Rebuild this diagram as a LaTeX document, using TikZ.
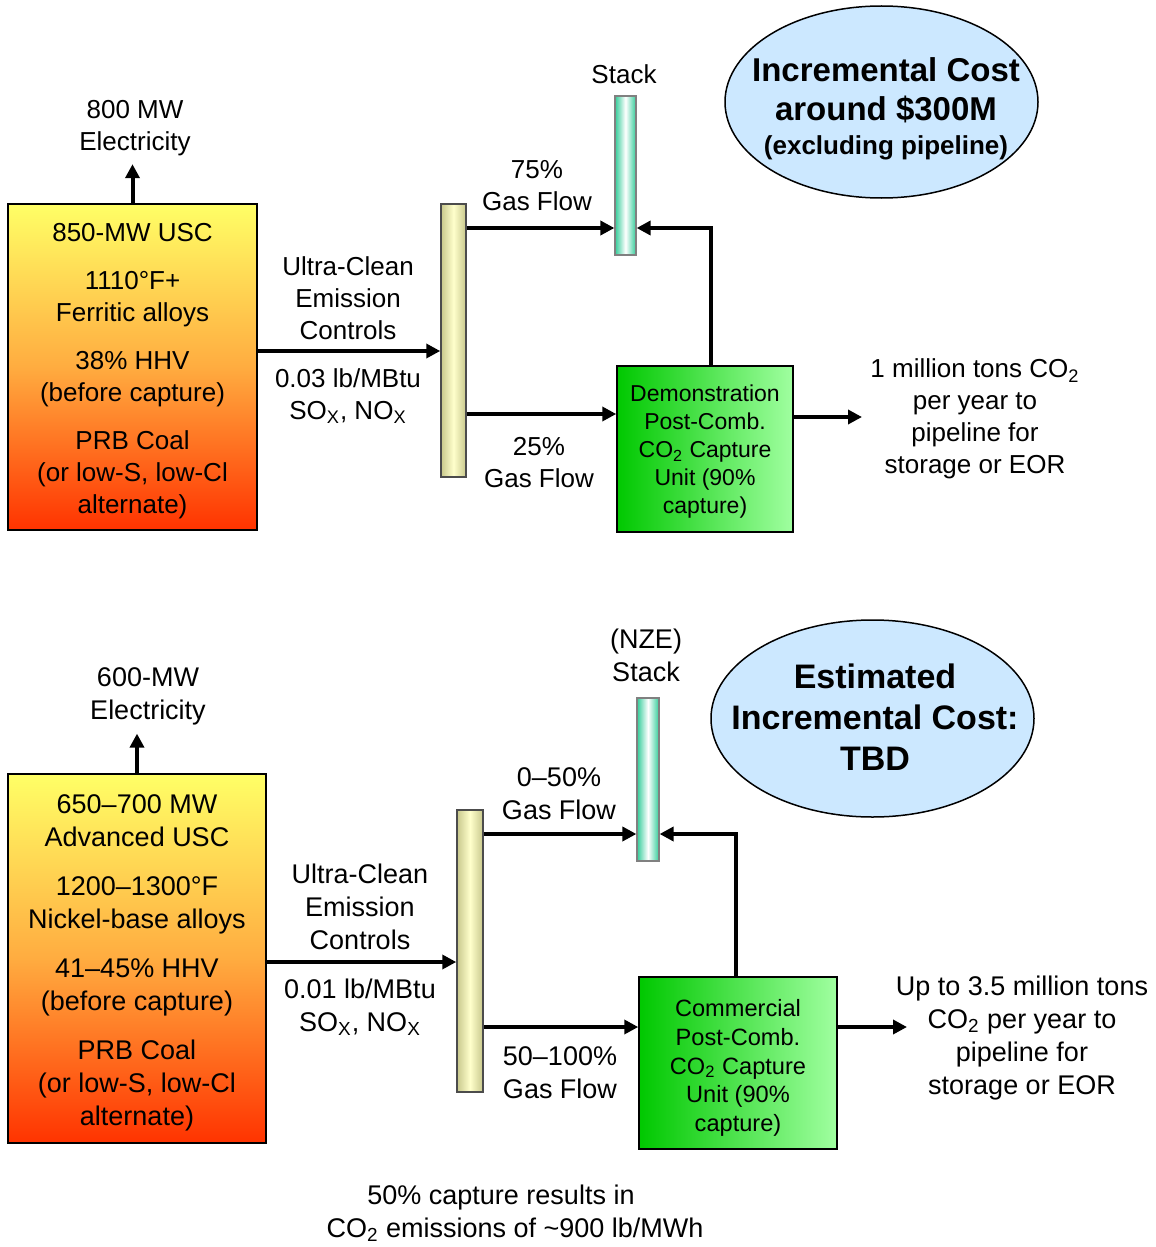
\documentclass[tikz,border=0pt]{standalone}
\usepackage{fontspec}
\setmainfont{Liberation Sans}
\usetikzlibrary{arrows.meta,shapes.geometric}
\definecolor{boxtop}{RGB}{255,255,102}
\definecolor{boxmid}{RGB}{255,172,64}
\definecolor{boxbot}{RGB}{255,51,0}
\definecolor{coledge}{RGB}{200,200,140}
\definecolor{colmid}{RGB}{255,255,204}
\definecolor{stackedge}{RGB}{51,204,153}
\definecolor{capleft}{RGB}{0,200,0}
\definecolor{capright}{RGB}{160,255,160}
\definecolor{ellfill}{RGB}{204,232,255}
\begin{document}
\begin{tikzpicture}[x=0.5pt,y=-0.5pt,
  plant/.style={draw=black, line width=0.75pt, top color=boxtop, bottom color=boxbot, middle color=boxmid, align=center, inner sep=0pt},
  colbox/.style={draw=black!70, line width=0.75pt, left color=coledge, right color=coledge, middle color=colmid, inner sep=0pt},
  stk/.style={draw=black!50, line width=0.6pt, left color=stackedge, right color=stackedge, middle color=white, inner sep=0pt},
  capbox/.style={draw=black, line width=0.75pt, left color=capleft, right color=capright, inner sep=0pt},
  ell/.style={ellipse, draw=black, line width=0.75pt, fill=ellfill, inner sep=0pt},
  lbl/.style={align=center, inner sep=0pt},
  ftop/.style={font=\fontsize{13}{16}\selectfont},
  fbot/.style={font=\fontsize{13.5}{16.5}\selectfont},
  arr/.style={line width=2pt, -{Triangle[length=7pt,width=7pt]}}]
\useasboundingbox (0,0) rectangle (1156,1247);

% ---------------- top section ----------------
\node[plant, minimum width=124.5pt, minimum height=163pt] (box1) at (132.5,367) {};
\node[lbl, ftop] (box1txt) at (132.5,371)
 {850-MW USC\\[8pt]1110°F+\\Ferritic alloys\\[8pt]38\% HHV\\(before capture)\\[8pt]PRB Coal\\(or low-S, low-Cl\\alternate)};
\node[lbl, ftop] (elec1) at (135,128) {800 MW\\Electricity};
\node[colbox, minimum width=12.5pt, minimum height=136.5pt] (col1) at (453.5,340.5) {};
\node[stk, minimum width=10.5pt, minimum height=79.5pt] (stack1) at (625.5,175.5) {};
\node[lbl, ftop] (stacklbl1) at (624,74) {Stack};
\node[capbox, minimum width=88pt, minimum height=83pt] (cap1) at (705,449) {};
\node[lbl, font=\fontsize{11.5}{14}\selectfont] (cap1txt) at (705,452)
 {Demonstration\\Post-Comb.\\CO\textsubscript{2} Capture\\Unit (90\%\\capture)};
\node[ell, minimum width=156.5pt, minimum height=96pt] (ell1) at (881.5,102) {};
\node[lbl, font=\bfseries\fontsize{16.5}{19.5}\selectfont] (ell1txt) at (886,109)
 {Incremental Cost\\around \$300M\\[-2.5pt]{\fontsize{13}{16}\selectfont (excluding pipeline)}};
\node[lbl, ftop] (uce1) at (348,298) {Ultra-Clean\\Emission\\Controls};
\node[lbl, ftop] (lb1) at (348,396) {0.03 lb/MBtu\\SO\textsubscript{X}, NO\textsubscript{X}};
\node[lbl, ftop] (g75) at (537,186) {75\%\\Gas Flow};
\node[lbl, ftop] (g25) at (539,463) {25\%\\Gas Flow};
\node[lbl, ftop] (out1) at (975,419) {1 million tons CO\textsubscript{2}\\per year to\\pipeline for\\storage or EOR};

\coordinate (m1) at (0,351);
\coordinate (t1) at (0,228);
\coordinate (b1) at (0,414);
\coordinate (fx1) at (711,0);
\coordinate (end1) at (862,417);
\draw[arr, shorten >=4pt] (box1.north) -- (box1.north |- elec1.south);
\draw[arr] (box1.east |- m1) -- (col1.west |- m1);
\draw[arr] (col1.east |- t1) -- (stack1.west |- t1);
\draw[arr] (col1.east |- b1) -- (cap1.west |- b1);
\draw[arr] (cap1.north -| fx1) |- (stack1.east |- t1);
\draw[arr] (cap1.east |- end1) -- (end1);

% ---------------- bottom section ----------------
\node[plant, minimum width=129pt, minimum height=184.5pt] (box2) at (137,958.5) {};
\node[lbl, fbot] (box2txt) at (137,963)
 {650–700 MW\\Advanced USC\\[8pt]1200–1300°F\\Nickel-base alloys\\[8pt]41–45\% HHV\\(before capture)\\[8pt]PRB Coal\\(or low-S, low-Cl\\alternate)};
\node[lbl, fbot] (elec2) at (148,696.5) {600-MW\\Electricity};
\node[colbox, minimum width=13pt, minimum height=141pt] (col2) at (470,951) {};
\node[stk, minimum width=11pt, minimum height=81.5pt] (stack2) at (648,779.5) {};
\node[lbl, fbot] (stacklbl2) at (646,655.5) {(NZE)\\Stack};
\node[capbox, minimum width=99pt, minimum height=86pt] (cap2) at (738,1063) {};
\node[lbl, font=\fontsize{11.8}{14.4}\selectfont] (cap2txt) at (738,1068)
 {Commercial\\Post-Comb.\\CO\textsubscript{2} Capture\\Unit (90\%\\capture)};
\node[ell, minimum width=161.5pt, minimum height=98.5pt] (ell2) at (872.5,718.5) {};
\node[lbl, font=\bfseries\fontsize{17}{20.5}\selectfont] (ell2txt) at (875,717)
 {Estimated\\Incremental Cost:\\TBD};
\node[lbl, fbot] (uce2) at (360,907) {Ultra-Clean\\Emission\\Controls};
\node[lbl, fbot] (lb2) at (360,1007) {0.01 lb/MBtu\\SO\textsubscript{X}, NO\textsubscript{X}};
\node[lbl, fbot] (g050) at (559,793.5) {0–50\%\\Gas Flow};
\node[lbl, fbot] (g50100) at (560,1072.5) {50–100\%\\Gas Flow};
\node[lbl, fbot] (out2) at (1022,1038) {Up to 3.5 million tons\\CO\textsubscript{2} per year to\\pipeline for\\storage or EOR};
\node[lbl, fbot] (caption1) at (501,1198) {50\% capture results in};
\node[lbl, fbot] (caption2) at (515,1230) {CO\textsubscript{2} emissions of \textasciitilde900 lb/MWh};

\coordinate (m2) at (0,962);
\coordinate (t2) at (0,834);
\coordinate (b2) at (0,1027);
\coordinate (fx2) at (736,0);
\coordinate (end2) at (907,1027);
\draw[arr, shorten >=4pt] (box2.north) -- (box2.north |- elec2.south);
\draw[arr] (box2.east |- m2) -- (col2.west |- m2);
\draw[arr] (col2.east |- t2) -- (stack2.west |- t2);
\draw[arr] (col2.east |- b2) -- (cap2.west |- b2);
\draw[arr] (cap2.north -| fx2) |- (stack2.east |- t2);
\draw[arr] (cap2.east |- end2) -- (end2);
\end{tikzpicture}
\end{document}
